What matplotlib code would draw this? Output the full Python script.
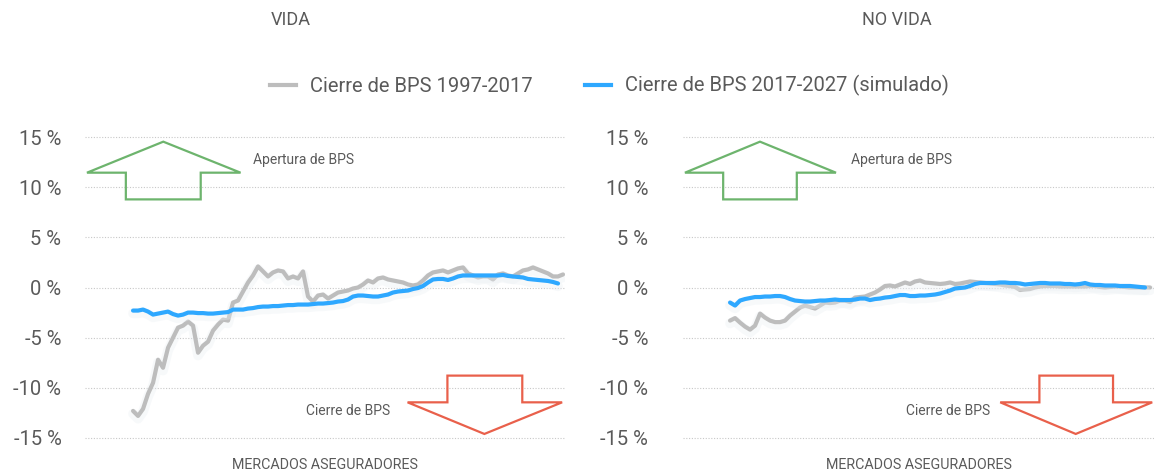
"""
Cierre de BPS por mercado asegurador, vida y no vida.
"""
import numpy as np
import matplotlib
matplotlib.use('Agg')
import matplotlib.pyplot as plt
import matplotlib.patheffects as pe
from matplotlib.patches import Polygon

plt.rcParams['font.family'] = ['Roboto', 'DejaVu Sans']

# values in %, one point per market
gray_vida = [
    -12.3, -12.8, -12.1, -10.6, -9.5, -7.2, -8.0, -6.0, -5.0, -4.0,
    -3.8, -3.4, -3.8, -6.5, -5.8, -5.4, -4.3, -3.7, -3.2, -3.3,
    -1.5, -1.3, -0.4, 0.5, 1.2, 2.1, 1.6, 1.1, 1.5, 1.7,
    1.6, 0.9, 1.1, 0.9, 1.6, -0.9, -1.4, -0.8, -0.7, -1.1,
    -0.8, -0.5, -0.4, -0.3, -0.1, 0.0, 0.3, 0.7, 0.5, 0.9,
    1.0, 0.8, 0.7, 0.6, 0.5, 0.3, 0.2, 0.3, 0.7, 1.2,
    1.5, 1.6, 1.7, 1.5, 1.7, 1.9, 2.0, 1.4, 1.2, 1.0,
    1.1, 1.1, 0.8, 1.3, 1.4, 1.2, 1.1, 1.4, 1.7, 1.8,
    2.0, 1.8, 1.6, 1.4, 1.1, 1.1, 1.3,
]
blue_vida = [
    -2.3, -2.3, -2.2, -2.4, -2.7, -2.6, -2.5, -2.4, -2.65, -2.8,
    -2.7, -2.5, -2.5, -2.55, -2.55, -2.6, -2.6, -2.55, -2.5, -2.45,
    -2.2, -2.2, -2.2, -2.1, -2.05, -1.95, -1.9, -1.9, -1.85, -1.85,
    -1.8, -1.75, -1.75, -1.7, -1.7, -1.7, -1.65, -1.6, -1.6, -1.55,
    -1.5, -1.4, -1.35, -1.2, -0.9, -0.8, -0.8, -0.85, -0.9, -0.9,
    -0.8, -0.7, -0.5, -0.4, -0.35, -0.3, -0.15, -0.05, 0.15, 0.5,
    0.8, 0.85, 0.85, 0.75, 0.9, 1.1, 1.2, 1.2, 1.2, 1.2,
    1.2, 1.2, 1.2, 1.2, 1.25, 1.15, 1.1, 1.05, 1.0, 0.85,
    0.8, 0.75, 0.7, 0.65, 0.55, 0.4,
]
gray_no_vida = [
    -3.3, -3.05, -3.5, -3.9, -4.2, -3.8, -2.6, -3.0, -3.3, -3.45,
    -3.45, -3.3, -2.8, -2.4, -2.0, -1.8, -1.95, -2.1, -1.8, -1.5,
    -1.55, -1.5, -1.3, -1.3, -1.45, -1.0, -0.95, -0.9, -0.7, -0.5,
    -0.2, 0.15, 0.2, 0.1, 0.3, 0.5, 0.35, 0.6, 0.7, 0.5,
    0.45, 0.4, 0.35, 0.4, 0.5, 0.35, 0.4, 0.5, 0.6, 0.55,
    0.5, 0.45, 0.4, 0.35, 0.3, 0.2, 0.15, 0.05, -0.25, -0.2,
    -0.15, 0.0, 0.1, 0.15, 0.15, 0.15, 0.1, 0.1, 0.1, 0.1,
    0.1, 0.1, 0.15, 0.15, 0.05, 0.0, 0.05, 0.1, 0.1, 0.05,
    0.0, 0.0, 0.0, 0.0, 0.0,
]
blue_no_vida = [
    -1.5, -1.8, -1.3, -1.15, -1.05, -0.95, -0.95, -0.9, -0.9, -0.85,
    -0.85, -0.95, -1.15, -1.3, -1.35, -1.4, -1.4, -1.35, -1.3, -1.3,
    -1.25, -1.2, -1.25, -1.25, -1.25, -1.2, -1.1, -1.1, -1.25, -1.15,
    -1.1, -1.0, -0.95, -0.85, -0.75, -0.75, -0.85, -0.85, -0.8, -0.8,
    -0.75, -0.7, -0.6, -0.45, -0.3, -0.1, -0.05, 0.0, 0.15, 0.35,
    0.45, 0.45, 0.45, 0.45, 0.5, 0.5, 0.45, 0.45, 0.4, 0.3,
    0.35, 0.4, 0.45, 0.45, 0.4, 0.4, 0.4, 0.35, 0.35, 0.3,
    0.35, 0.45, 0.3, 0.25, 0.25, 0.2, 0.2, 0.2, 0.15, 0.15,
    0.15, 0.1, 0.05, 0.0,
]

y_ticks = [-15, -10, -5, 0, 5, 10, 15]
y_tick_labels = ['-15 %', '-10 %', '-5 %', '0 %', '5 %', '10 %', '15 %']
titles = ['VIDA', 'NO VIDA']
series_labels = ['Cierre de BPS 1997-2017',
                 'Cierre de BPS 2017-2027 (simulado)']
x_label = 'MERCADOS ASEGURADORES'
up_label = 'Apertura de BPS'
down_label = 'Cierre de BPS'

GRAY = '#bdbdbd'
BLUE = '#2ea8ff'
GREEN = '#6db46d'
RED = '#e9604b'
TEXT = '#5a5a5a'


def shadow():
    """Very faint glow under the lines."""
    return [pe.SimpleLineShadow(offset=(0, -2), shadow_color='#e9eef3',
                                alpha=0.35, linewidth=7), pe.Normal()]


def draw_arrows(ax, up_x, down_x):
    """Green up arrow and red down arrow, in axes fractions."""
    up = [(0.004, 0.874), (0.163, 0.975), (0.324, 0.874), (0.241, 0.874),
          (0.241, 0.787), (0.085, 0.787), (0.085, 0.874)]
    ax.add_patch(Polygon(up, closed=True, fill=False, edgecolor=GREEN,
                         lw=1.6, transform=ax.transAxes, clip_on=False))
    down = [(0.672, 0.126), (0.755, 0.126), (0.755, 0.213), (0.911, 0.213),
            (0.911, 0.126), (0.994, 0.126), (0.832, 0.023)]
    ax.add_patch(Polygon(down, closed=True, fill=False, edgecolor=RED,
                         lw=1.6, transform=ax.transAxes, clip_on=False))
    ax.text(up_x, 0.915, up_label, transform=ax.transAxes, fontsize=10,
            color=TEXT, ha='left', va='center')
    ax.text(down_x, 0.098, down_label, transform=ax.transAxes, fontsize=10,
            color=TEXT, ha='right', va='center')


def panel(ax, gray, blue, title_x, title, xlim, pad):
    """One panel: two lines, dotted grid."""
    ax.plot(np.arange(len(gray)), gray, color=GRAY, lw=3,
            solid_capstyle='round', path_effects=shadow())
    ax.plot(np.arange(len(blue)), blue, color=BLUE, lw=3,
            solid_capstyle='round', path_effects=shadow())
    ax.set_xlim(*xlim)
    ax.set_ylim(-15.3, 15.3)
    ax.set_yticks(y_ticks)
    ax.set_yticklabels(y_tick_labels)
    ax.set_xticks([])
    ax.tick_params(axis='y', length=0, pad=pad, labelsize=14.5,
                   labelcolor=TEXT)
    ax.grid(axis='y', color='#c8c8c8', linestyle=(0, (1, 1.5)), lw=0.8)
    ax.set_axisbelow(True)
    for spine in ax.spines.values():
        spine.set_visible(False)
    ax.text(0.5, -0.078, x_label, transform=ax.transAxes, fontsize=10.3,
            color=TEXT, ha='center', va='center')
    ax.figure.text(title_x, 0.958, title, fontsize=13, color=TEXT,
                   ha='center', va='center')


fig = plt.figure(figsize=(11.54, 4.74), dpi=100)
ax_vida = fig.add_axes([0.0737, 0.0696, 0.4159, 0.6477])
ax_no_vida = fig.add_axes([0.5919, 0.0696, 0.409, 0.6477])

panel(ax_vida, gray_vida, blue_vida, 0.252, titles[0], (-9.6, 86.4), 17)
draw_arrows(ax_vida, 0.35, 0.635)
panel(ax_no_vida, gray_no_vida, blue_no_vida, 0.777, titles[1],
      (-9.4, 85.0), 25)
draw_arrows(ax_no_vida, 0.356, 0.65)

handles = [plt.Line2D([], [], color=GRAY, lw=3),
           plt.Line2D([], [], color=BLUE, lw=3)]
fig.legend(handles, series_labels, loc='center', ncol=2, frameon=False,
           bbox_to_anchor=(0.528, 0.819), fontsize=14.5, labelcolor=TEXT,
           handlelength=1.3, handletextpad=0.7, columnspacing=2.6)

fig.savefig('out.png', dpi=100, facecolor='white')
